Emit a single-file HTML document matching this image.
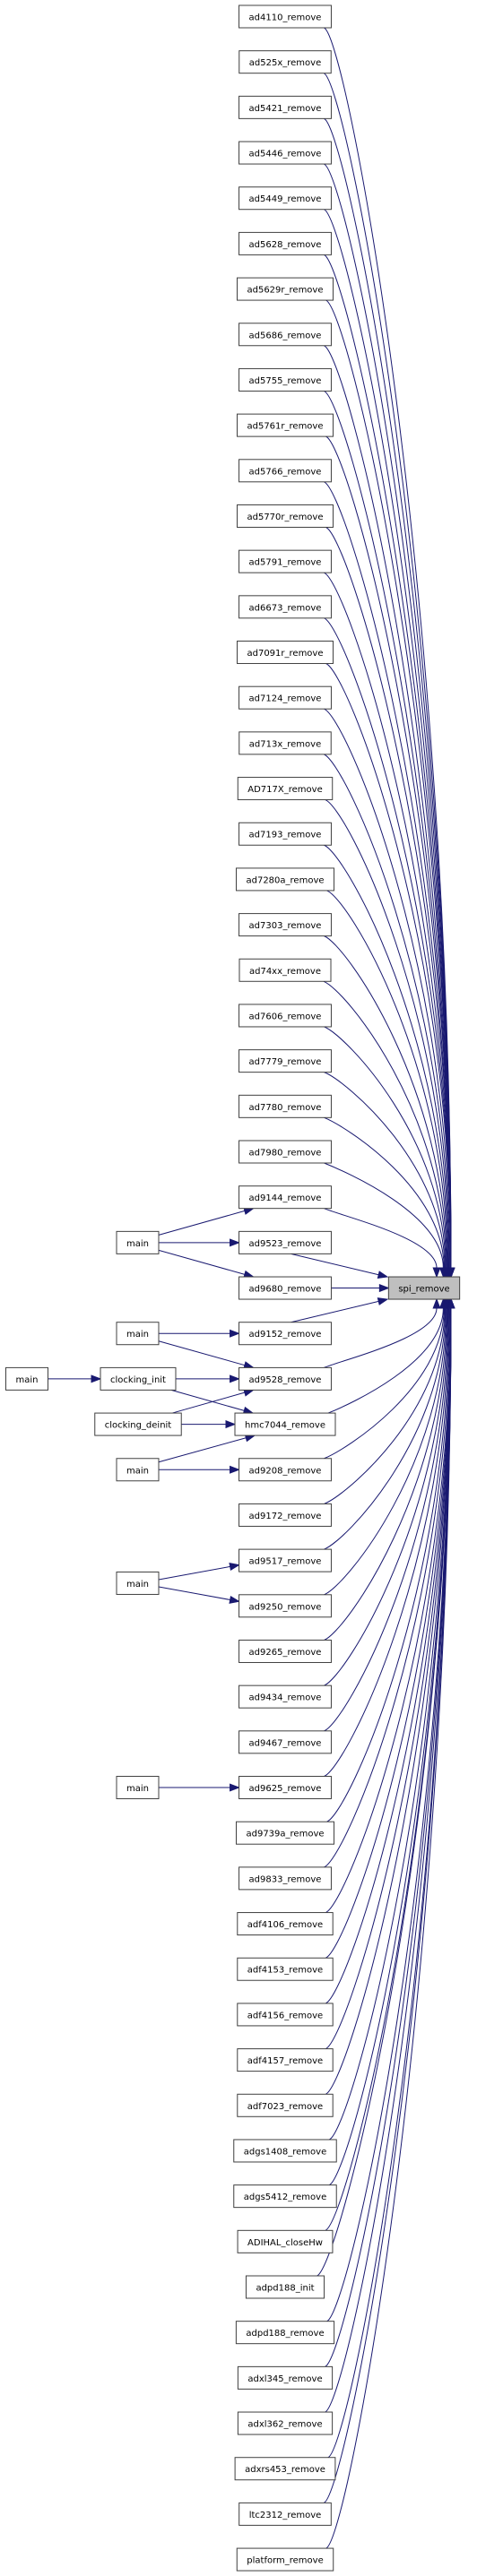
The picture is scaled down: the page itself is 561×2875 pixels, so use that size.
<!DOCTYPE html>
<html><head><meta charset="utf-8"><style>
html,body{margin:0;padding:0;background:#fff;}
svg{display:block;}
text{font-family:"DejaVu Sans","Liberation Sans",sans-serif;font-size:10px;fill:#000;}
</style></head><body>
<svg id="g" width="561" height="2875" viewBox="0 0 561 2875" xmlns="http://www.w3.org/2000/svg"></svg>
<script>
var names=["ad4110_remove","ad525x_remove","ad5421_remove","ad5446_remove","ad5449_remove","ad5628_remove","ad5629r_remove","ad5686_remove","ad5755_remove","ad5761r_remove","ad5766_remove","ad5770r_remove","ad5791_remove","ad6673_remove","ad7091r_remove","ad7124_remove","ad713x_remove","AD717X_remove","ad7193_remove","ad7280a_remove","ad7303_remove","ad74xx_remove","ad7606_remove","ad7779_remove","ad7780_remove","ad7980_remove","ad9144_remove","ad9523_remove","ad9680_remove","ad9152_remove","ad9528_remove","hmc7044_remove","ad9208_remove","ad9172_remove","ad9517_remove","ad9250_remove","ad9265_remove","ad9434_remove","ad9467_remove","ad9625_remove","ad9739a_remove","ad9833_remove","adf4106_remove","adf4153_remove","adf4156_remove","adf4157_remove","adf7023_remove","adgs1408_remove","adgs5412_remove","ADIHAL_closeHw","adpd188_init","adpd188_remove","adxl345_remove","adxl362_remove","adxrs453_remove","ltc2312_remove","platform_remove"];
var svg=document.getElementById('g');var NS="http://www.w3.org/2000/svg";
var edges=[],nodesEl=[];
function Y(i){return 6+i*50.68;}
function el(t,a){var e=document.createElementNS(NS,t);for(var k in a)e.setAttribute(k,a[k]);return e;}
var eg=el('g',{});svg.appendChild(eg);var ng=el('g',{});svg.appendChild(ng);
function box(label,cx,y,fill){var t=el('text',{x:cx,y:y+16.5,'text-anchor':'middle'});t.textContent=label;ng.appendChild(t);
 var w=t.getComputedTextLength()+22;var x=cx-w/2;
 var r=el('rect',{x:x,y:y,width:w,height:25,fill:fill||'#fff',stroke:'#404040','stroke-width':1});ng.insertBefore(r,t);
 return {l:x,r:x+w,t:y,b:y+25,cy:y+12.5,cx:cx};}
function arrow(x,y,dx,dy){var L=Math.hypot(dx,dy);dx/=L;dy/=L;var s=10,h=3.8;
 var bx=x-dx*s,by=y-dy*s;eg.appendChild(el('polygon',{points:x+','+y+' '+(bx-dy*h)+','+(by+dx*h)+' '+(bx+dy*h)+','+(by-dx*h),fill:'#191970',stroke:'#191970'}));}
function path(d){eg.appendChild(el('path',{d:d,fill:'none',stroke:'#191970','stroke-width':1}));}
function line(x1,y1,x2,y2){path('M'+x1+','+y1+'L'+(x2-(x2-x1)*10/Math.hypot(x2-x1,y2-y1))+','+(y2-(y2-y1)*10/Math.hypot(x2-x1,y2-y1)));arrow(x2,y2,x2-x1,y2-y1);}
var spi=box('spi_remove',473,Y(28),'#bfbfbf');
var B=[];
for(var i=0;i<names.length;i++){B[i]=box(names[i],318,Y(i));}
for(var i=0;i<names.length;i++){if(i==28){line(B[i].r,B[i].cy,spi.l,spi.cy);continue;}
 var d=Math.abs(i-28),b=B[i];
 var up=i<28;
 var ex=d==1?(up?432:432):d==2?487:Math.min(503,492+d*0.8);
 var ey=up?spi.t:spi.b;
 if(d==1){var sy=up?b.b:b.t;line(b.r-45,sy,ex,ey);continue;}
 var sx=b.r-8,sy=up?b.b:b.t;
 var c2y=up?ey-(ey-sy)*0.55:ey+(sy-ey)*0.55;
 var c1x=sx+25,c1y=up?sy+10:sy-10;
 // shorten end
 var tx=ex,ty=up?ey-10:ey+10;
 path('M'+sx+','+sy+' C'+c1x+','+c1y+' '+ex+','+c2y+' '+tx+','+ty);
 arrow(ex,ey,0,up?1:-1);
}
function M(label,cx,row){return box(label,cx,row);}
var m1=box('main',153.5,Y(27));line(m1.r,m1.t+4,B[26].l+16,B[26].b);line(m1.r,m1.cy,B[27].l,B[27].cy);line(m1.r,m1.b-4,B[28].l+16,B[28].t);
var m2=box('main',153.5,Y(29));line(m2.r,m2.cy,B[29].l,B[29].cy);line(m2.r,m2.b-4,B[30].l+16,B[30].t);
var m3=box('main',30,Y(30));var ci=box('clocking_init',154,Y(30));line(m3.r,m3.cy,ci.l,ci.cy);
line(ci.r,ci.cy,B[30].l,B[30].cy);line(ci.r-5,ci.b,B[31].l+20,B[31].t);
var cd=box('clocking_deinit',154,Y(31));line(cd.r-10,cd.t,B[30].l+16,B[30].b);line(cd.r,cd.cy,B[31].l,B[31].cy);
var m4=box('main',153.5,Y(32));line(m4.r,m4.t+4,B[31].l+22,B[31].b);line(m4.r,m4.cy,B[32].l,B[32].cy);
var m5=box('main',153.5,(Y(34)+Y(35))/2);line(m5.r,m5.cy-4,B[34].l,B[34].cy+5);line(m5.r,m5.cy+4,B[35].l,B[35].cy-5);
var m6=box('main',153.5,Y(39));line(m6.r,m6.cy,B[39].l,B[39].cy);
</script>
</body></html>
